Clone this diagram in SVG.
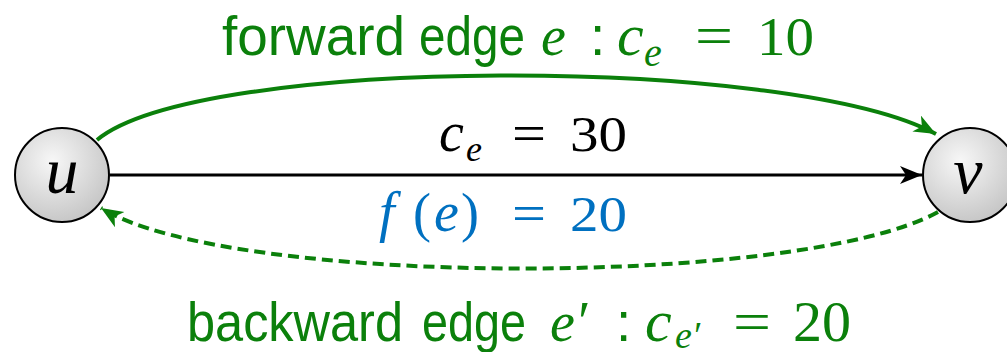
<svg xmlns="http://www.w3.org/2000/svg" width="1007" height="352" viewBox="0 0 1007 352">
<style>
.sans{font-family:"Liberation Sans",Arial,sans-serif;}
.m{font-family:"Liberation Serif","DejaVu Serif",serif;}
.i{font-style:italic;}
.g{fill:#0b800b;}
.k{fill:#000;}
.b{fill:#0070c0;}
.node{stroke:#000;stroke-width:2;fill:url(#ng);}
.lbl{font-family:"Liberation Serif","DejaVu Serif",serif;font-style:italic;font-size:66px;text-anchor:middle;fill:#000;}
</style>
<defs>
<radialGradient id="ng" cx="0.4" cy="0.35" r="0.7">
<stop offset="0" stop-color="#f7f7f7"/>
<stop offset="1" stop-color="#c4c4c4"/>
</radialGradient>
<marker id="ak" markerUnits="userSpaceOnUse" markerWidth="24" markerHeight="20" refX="22" refY="9" orient="auto">
<path d="M0,0 L22,9 L0,18 L6,9 z" fill="#000"/>
</marker>
<marker id="ag" markerUnits="userSpaceOnUse" markerWidth="24" markerHeight="20" refX="22" refY="9" orient="auto">
<path d="M0,0 L22,9 L0,18 L6,9 z" fill="#0b800b"/>
</marker>
</defs>
<g id="connectors" fill="none">
<path d="M97,140 C200,55 790,55 936,134" stroke="#0b800b" stroke-width="4" marker-end="url(#ag)"/>
<path d="M110,175 L922,175" stroke="#000" stroke-width="3" marker-end="url(#ak)"/>
<path d="M938,212 C800,288 230,288 101,208" stroke="#0b800b" stroke-width="4" stroke-dasharray="11,6" marker-end="url(#ag)"/>
</g>
<g id="node-u">
<circle class="node" cx="62" cy="175" r="47"/>
<text class="lbl" x="62" y="193">u</text>
</g>
<g id="node-v">
<circle class="node" cx="970" cy="175" r="47"/>
<text class="lbl" x="968" y="193">v</text>
</g>
<g id="label-forward" class="g">
<text class="sans" x="222" y="55" font-size="55" textLength="183" lengthAdjust="spacingAndGlyphs">forward</text>
<text class="sans" x="419" y="55" font-size="55" textLength="106" lengthAdjust="spacingAndGlyphs">edge</text>
<text class="m i" x="541" y="55" font-size="56">e</text>
<text class="sans" x="590" y="55" font-size="55">:</text>
<text class="m i" x="617" y="55" font-size="60">c</text>
<text class="m i" x="644" y="66" font-size="40">e</text>
<text class="m" x="695" y="55" font-size="56" textLength="38" lengthAdjust="spacingAndGlyphs">=</text>
<text class="m" x="757" y="55" font-size="54" textLength="57" lengthAdjust="spacingAndGlyphs">10</text>
</g>
<g id="label-capacity" class="k">
<text class="m i" x="439" y="151" font-size="56">c</text>
<text class="m i" x="466" y="161" font-size="36">e</text>
<text class="m" x="512" y="151" font-size="52" textLength="34" lengthAdjust="spacingAndGlyphs">=</text>
<text class="m" x="570" y="151" font-size="51" textLength="57" lengthAdjust="spacingAndGlyphs">30</text>
</g>
<g id="label-flow" class="b">
<text class="m i" x="379" y="231" font-size="56">f</text>
<text class="m" x="413" y="231" font-size="54">(</text>
<text class="m i" x="434" y="231" font-size="56">e</text>
<text class="m" x="461" y="231" font-size="54">)</text>
<text class="m" x="512" y="231" font-size="52" textLength="34" lengthAdjust="spacingAndGlyphs">=</text>
<text class="m" x="570" y="231" font-size="51" textLength="57" lengthAdjust="spacingAndGlyphs">20</text>
</g>
<g id="label-backward" class="g">
<text class="sans" x="187" y="341" font-size="55" textLength="216" lengthAdjust="spacingAndGlyphs">backward</text>
<text class="sans" x="422" y="341" font-size="55" textLength="104" lengthAdjust="spacingAndGlyphs">edge</text>
<text class="m i" x="550" y="341" font-size="56">e′</text>
<text class="sans" x="616" y="341" font-size="55">:</text>
<text class="m i" x="645" y="341" font-size="60">c</text>
<text class="m i" x="675" y="348" font-size="38">e′</text>
<text class="m" x="733" y="341" font-size="56" textLength="38" lengthAdjust="spacingAndGlyphs">=</text>
<text class="m" x="793" y="341" font-size="56" textLength="58" lengthAdjust="spacingAndGlyphs">20</text>
</g>
</svg>
